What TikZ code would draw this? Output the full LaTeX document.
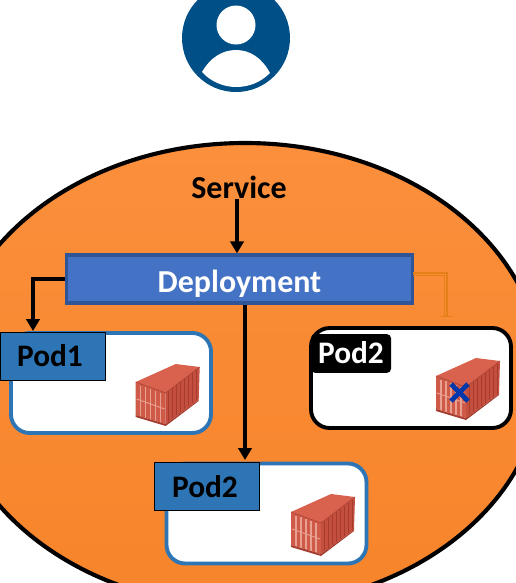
\documentclass[tikz,border=0pt]{standalone}
\usepackage{fontspec}
\setmainfont{Carlito}
\usetikzlibrary{arrows.meta,calc}
\definecolor{orangeA}{HTML}{F7842A}
\definecolor{orangeB}{HTML}{FB8F3C}
\definecolor{podblue}{HTML}{2E75B6}
\definecolor{depblue}{HTML}{4472C4}
\definecolor{depedge}{HTML}{2F5597}
\definecolor{usercol}{HTML}{004F86}
\definecolor{ctop}{HTML}{D9624F}
\definecolor{cfront}{HTML}{CF5A48}
\definecolor{cside}{HTML}{C44F3E}
\definecolor{crib}{HTML}{E8A090}
\definecolor{cdark}{HTML}{A63C2E}
\tikzset{
  x=0.75pt,y=-0.75pt,
  label text/.style={font=\bfseries\fontsize{24pt}{26pt}\selectfont,inner sep=0pt},
  pod text/.style={font=\bfseries\fontsize{23.5pt}{25pt}\selectfont,inner sep=0pt},
  card/.style={draw=podblue,line width=2.9pt,fill=white,rounded corners=14pt,minimum width=150pt,minimum height=75pt,inner sep=0pt},
  blackcard/.style={card,draw=black},
  podlabel/.style={pod text,draw=black,line width=0.8pt,fill=podblue,text=black,minimum width=79pt,minimum height=36pt},
  podlabeldark/.style={pod text,fill=black,text=white,rounded corners=3pt,minimum width=60pt,minimum height=29pt},
  arrowline/.style={draw=black,line width=2.7pt,-{Triangle[length=9pt,width=10pt]}},
  faint/.style={draw=orange!60!brown,line width=0.6pt},
  pics/container/.style={code={
    \fill[ctop] (0,18)--(40,0)--(64,3)--(30,29)--cycle;
    \fill[cfront] (0,18)--(30,29)--(30,60)--(0,51)--cycle;
    \fill[cside] (30,29)--(64,3)--(63,36)--(30,60)--cycle;
    \foreach \i in {0,...,7} {\draw[cdark,line width=0.5pt] ({33+\i*4},{26.5-\i*3}) -- ({33+\i*4},{57-\i*3});}
    \foreach \i in {1,...,5} {\draw[crib,line width=0.9pt] ({\i*5},{19.8+\i*1.8}) -- ({\i*5},{51.6+\i*1.5});}
    \draw[crib,line width=0.7pt] (1,35)--(29,45);
    \draw[cdark,line width=0.4pt] (0,18)--(30,29)--(64,3);
    \fill[cdark] (0,51)--(30,60)--(63,36)--(63,37)--(30,62)--(0,53)--cycle;
  }}
}
\begin{document}
\begin{tikzpicture}
\useasboundingbox (0,0) rectangle (516,583);
\fill[white] (0,0) rectangle (516,583);
% user icon
\fill[usercol] (236,38) circle[radius=54];
\fill[white] (236,25) circle[radius=19.5];
\fill[white] (202,72) .. controls (210,58) and (222,50) .. (236,50) .. controls (250,50) and (262,58) .. (270,73) .. controls (260,83) and (248,87) .. (236,87) .. controls (224,87) and (211,82) .. (202,72) -- cycle;
% big ellipse
\shade[bottom color=orangeA,top color=orangeB] (245,375) ellipse[x radius=297,y radius=232];
\draw[black,line width=3.1pt] (245,375) ellipse[x radius=297,y radius=232];
% nodes
\node[label text,text=black] (svc) at (239,187) {Service};
\node[draw=depedge,line width=2.4pt,fill=depblue,text=white,label text,minimum width=260pt,minimum height=36pt] (dep) at (239.5,279) {\raisebox{-1.8pt}[\height][0pt]{Deployment}};
\node[card] (c1) at (111,383) {};
\node[podlabel,anchor=north west] (l1) at (0,332) {};
\node[pod text] at (50,356) {Pod1};
\node[blackcard] (c3) at (411,378) {};
\node[podlabeldark] (l3) at (351,353.5) {\raisebox{1.2pt}{Pod2}};
\node[card] (c2) at (266.5,513.5) {};
\node[podlabel] (l2) at (207,486.5) {\hspace*{-3pt}Pod2};
\coordinate (p1in) at ($(l1.north west)+(33,-1)$);
\coordinate (p2in) at (245,460);
\coordinate (fa) at (413,273);
% containers
\pic at (135.7,364) {container};
\pic at (291,494) {container};
\pic at (436,358) {container};
% cross
\draw[draw=usercol!70!blue,line width=3.6pt] (451,384)--(468,401) (468,384)--(451,401);
% connectors
\draw[arrowline] (svc.south -| 237,0) -- (dep.north -| 237,0);
\draw[arrowline] (dep.west) -| (p1in);
\draw[arrowline] (dep.south -| p2in) -- (p2in);
\draw[faint,line width=1pt] (fa) -| (447,316);
\draw[faint] (fa |- 0,275) -| (444,316);
\draw[faint] (441,316) -- (452,316);
\end{tikzpicture}
\end{document}
